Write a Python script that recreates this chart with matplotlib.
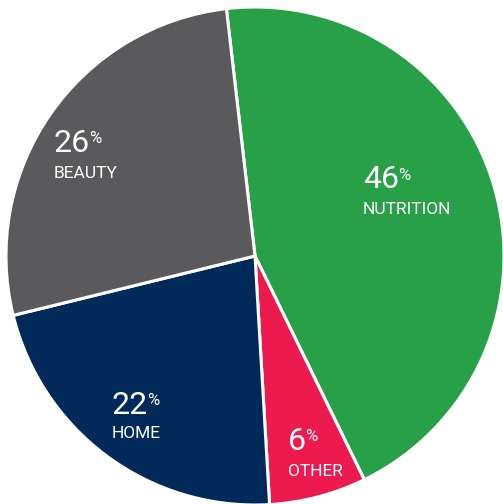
import matplotlib.pyplot as plt

# Data: wedge sizes as drawn in the picture, labels as printed on it
categories = ["NUTRITION", "OTHER", "HOME", "BEAUTY"]
wedge_sizes = [44.6, 6.3, 22.1, 27.0]
pct_labels = ["46", "6", "22", "26"]
colors = ["#28a048", "#ed1a50", "#012a5b", "#5a5a5c"]

# label anchor (left x, number centre y, label centre y) in pixels
label_pos = {
    "NUTRITION": (363, 180, 209),
    "OTHER": (288, 441, 471),
    "HOME": (112, 405, 433),
    "BEAUTY": (54, 143, 173),
}

W, H = 503, 504
cx, cy, r = 255, 256, 249

fig = plt.figure(figsize=(W / 100, H / 100), dpi=100)
ax = fig.add_axes([0, 0, 1, 1])
ax.pie(wedge_sizes, colors=colors, startangle=96.6, counterclock=False,
       wedgeprops=dict(edgecolor="white", linewidth=2.2))
ax.set_xlim(-cx / r, (W - cx) / r)
ax.set_ylim(-(H - cy) / r, cy / r)
ax.set_aspect("equal")
ax.axis("off")


def px(x, y):
    return (x - cx) / r, (cy - y) / r


for cat, pct in zip(categories, pct_labels):
    lx, ny, ty = label_pos[cat]
    num = ax.text(*px(lx, ny), pct, color="white", fontsize=23,
                  family="Roboto", ha="left", va="center")
    ax.annotate("%", xy=(1, 1), xycoords=num, xytext=(-0.5, -1.5),
                textcoords="offset points", ha="left", va="top",
                color="white", fontsize=12, family="Roboto")
    ax.text(*px(lx, ty), cat, color="white", fontsize=12.5, family="Roboto",
            ha="left", va="center")

fig.savefig("out.png", dpi=100)
